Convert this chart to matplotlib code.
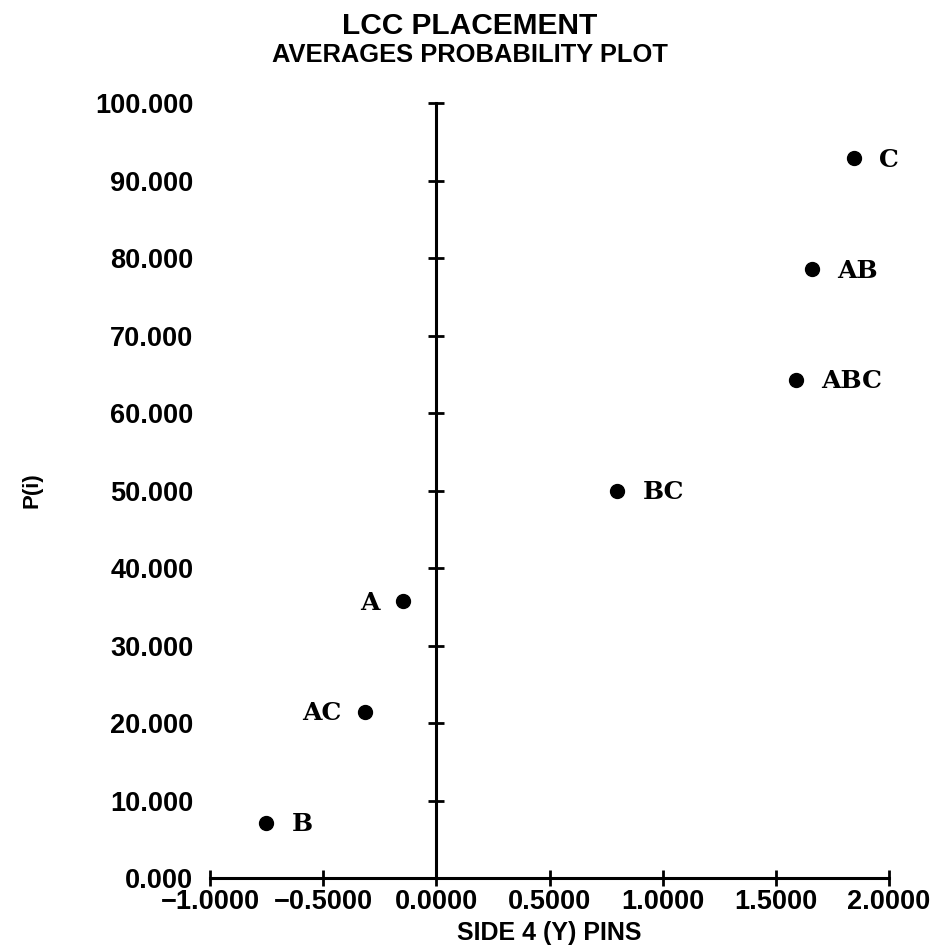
import numpy as np
import matplotlib
matplotlib.use("Agg")
import matplotlib.pyplot as plt

# effect names, their averages (x) and normal probability positions P(i) in %
effects = ['B', 'AC', 'A', 'BC', 'ABC', 'AB', 'C']
averages = [-0.751, -0.314, -0.147, 0.80, 1.59, 1.66, 1.847]
p_i = [7.14, 21.43, 35.71, 50.0, 64.29, 78.57, 92.86]

x_ticks = [-1.0, -0.5, 0.0, 0.5, 1.0, 1.5, 2.0]
y_ticks = [0, 10, 20, 30, 40, 50, 60, 70, 80, 90, 100]

title = 'LCC PLACEMENT'
subtitle = 'AVERAGES PROBABILITY PLOT'
x_label = 'SIDE 4 (Y) PINS'
y_label = 'P(i)'

# labels drawn on the left side of their point
left_labels = {'A', 'AC'}

plt.rcParams['font.family'] = ['Liberation Sans', 'DejaVu Sans']
plt.rcParams['font.weight'] = 'bold'
plt.rcParams['axes.labelweight'] = 'bold'

fig = plt.figure(figsize=(9.39, 9.48), dpi=100)
ax = fig.add_axes([0.2236, 0.0738, 0.7232, 0.8175])

ax.plot(averages, p_i, 'o', color='black', markersize=10, clip_on=False)

for name, x, y in zip(effects, averages, p_i):
    if name in left_labels:
        off, ha = -17, 'right'
    else:
        off, ha = 18, 'left'
    ax.annotate(name, (x, y), xytext=(off, -1), textcoords='offset points',
                ha=ha, va='center', fontsize=18, fontweight='bold',
                family='DejaVu Serif')

ax.set_xlim(x_ticks[0], x_ticks[-1])
ax.set_ylim(y_ticks[0], y_ticks[-1])

for side in ['left', 'right', 'top']:
    ax.spines[side].set_visible(False)
ax.spines['bottom'].set_linewidth(2.2)

ax.set_xticks(x_ticks)
ax.set_xticklabels([f'{v:.4f}'.replace('-', '\u2212') for v in x_ticks])
ax.tick_params(axis='x', direction='inout', length=12, width=2, pad=2,
               labelsize=19.5)
ax.set_yticks(y_ticks)
ax.set_yticklabels([f'{v:.3f}' for v in y_ticks])
ax.tick_params(axis='y', length=0, pad=12, labelsize=19.5)

# vertical axis through x = 0 with cross ticks
loc = (0 - x_ticks[0]) / (x_ticks[-1] - x_ticks[0])
sec = ax.secondary_yaxis(loc)
sec.set_yticks(y_ticks)
sec.tick_params(direction='inout', length=12, width=2, labelleft=False)
sec.spines['left'].set_linewidth(2.2)

ax.set_xlabel(x_label, fontsize=18, fontweight='bold', labelpad=4)
ax.set_ylabel(y_label, fontsize=16, fontweight='bold')
ax.yaxis.set_label_coords(-0.247, 0.5)

fig.text(0.5, 0.9726, title, ha='center', va='center', fontsize=21.5,
         fontweight='bold')
fig.text(0.5, 0.942, subtitle, ha='center', va='center', fontsize=18.4,
         fontweight='bold')

fig.savefig('out.png', dpi=100)
